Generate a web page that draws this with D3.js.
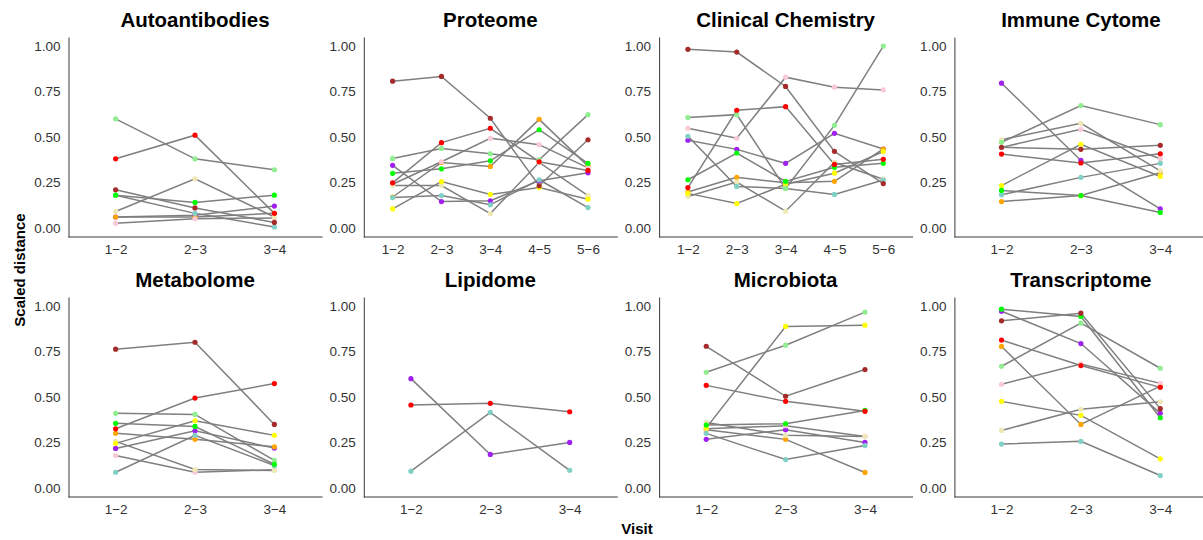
<!DOCTYPE html>
<html>
<head>
<meta charset="utf-8">
<script src="https://cdn.jsdelivr.net/npm/d3@7"></script>
<style>
  body { margin: 0; background: #fff; }
  svg { display: block; font-family: "Liberation Sans", Arial, sans-serif; }
</style>
</head>
<body>
<svg></svg>
<script>
//size of the page and of each facet
let width = 1203
let height = 540
let panelW = 254
let panelH = 200
let colStep = 295.3
let rowStep = 260
let panelLeft = 68
let panelTop = 37

//visit labels (ggplot uses a real minus sign)
const visits3 = ['1\u22122', '2\u22123', '3\u22124']
const visits5 = ['1\u22122', '2\u22123', '3\u22124', '4\u22125', '5\u22126']
const yTicks = [0, 0.25, 0.5, 0.75, 1]

//subjects, drawn in this order
const subjects = ['purple', 'orange', 'pink', 'beige', 'turq', 'yellow', 'lightgreen', 'green', 'brown', 'red']
const subjectColors = ['#a020f0', '#ffa500', '#f9c9d6', '#eee8b4', '#80d0c6', '#ffff00', '#90ee90', '#00ff00', '#a52a2a', '#ff0000']

//scaled distance per subject, one value per visit
const autoantibodies = [
  ['red', 0.38, 0.51, 0.08],
  ['brown', 0.21, 0.11, 0.03],
  ['lightgreen', 0.60, 0.38, 0.32],
  ['green', 0.18, 0.14, 0.18],
  ['turq', 0.18, 0.08, 0.005],
  ['beige', 0.09, 0.27, 0.06],
  ['orange', 0.06, 0.06, 0.08],
  ['pink', 0.025, 0.05, 0.055],
  ['purple', 0.06, 0.07, 0.12]
]
const proteome = [
  ['brown', 0.807, 0.833, 0.603, 0.232, 0.485],
  ['red', 0.248, 0.469, 0.548, 0.364, 0.316],
  ['lightgreen', 0.382, 0.437, 0.408, 0.375, 0.623],
  ['green', 0.30, 0.325, 0.369, 0.540, 0.355],
  ['purple', 0.344, 0.145, 0.149, 0.26, 0.303],
  ['pink', 0.24, 0.364, 0.493, 0.458, 0.33],
  ['beige', 0.233, 0.233, 0.079, 0.36, 0.178],
  ['turq', 0.167, 0.178, 0.127, 0.265, 0.112],
  ['yellow', 0.105, 0.255, 0.184, 0.222, 0.158],
  ['orange', 0.17, 0.36, 0.338, 0.597, 0.34]
]
const clinicalChemistry = [
  ['brown', 0.982, 0.967, 0.778, 0.421, 0.244],
  ['pink', 0.548, 0.493, 0.829, 0.774, 0.759],
  ['lightgreen', 0.607, 0.623, 0.217, 0.564, 1.0],
  ['red', 0.222, 0.647, 0.667, 0.349, 0.377],
  ['purple', 0.482, 0.432, 0.355, 0.52, 0.434],
  ['green', 0.265, 0.412, 0.256, 0.333, 0.355],
  ['turq', 0.504, 0.228, 0.217, 0.184, 0.263],
  ['orange', 0.197, 0.278, 0.248, 0.256, 0.434],
  ['yellow', 0.19, 0.134, 0.24, 0.301, 0.42],
  ['beige', 0.173, 0.252, 0.092, 0.36, 0.268]
]
const immuneCytome = [
  ['purple', 0.796, 0.371, 0.105],
  ['lightgreen', 0.471, 0.673, 0.568],
  ['beige', 0.485, 0.575, 0.314],
  ['brown', 0.443, 0.432, 0.454],
  ['red', 0.406, 0.357, 0.408],
  ['yellow', 0.233, 0.46, 0.283],
  ['green', 0.206, 0.178, 0.085],
  ['turq', 0.182, 0.278, 0.355],
  ['orange', 0.145, 0.178, 0.303],
  ['pink', 0.443, 0.542, 0.38]
]
const metabolome = [
  ['brown', 0.763, 0.801, 0.349],
  ['red', 0.325, 0.494, 0.574],
  ['lightgreen', 0.41, 0.404, 0.151],
  ['green', 0.355, 0.338, 0.13],
  ['orange', 0.30, 0.267, 0.226],
  ['beige', 0.256, 0.101, 0.096],
  ['yellow', 0.245, 0.369, 0.289],
  ['purple', 0.217, 0.314, 0.219],
  ['pink', 0.178, 0.086, 0.10],
  ['turq', 0.086, 0.289, 0.123]
]
const lipidome = [
  ['purple', 0.601, 0.184, 0.25],
  ['red', 0.456, 0.465, 0.419],
  ['turq', 0.092, 0.415, 0.097]
]
const microbiota = [
  ['yellow', 0.33, 0.888, 0.895],
  ['lightgreen', 0.636, 0.785, 0.967],
  ['brown', 0.779, 0.504, 0.651],
  ['red', 0.564, 0.476, 0.421],
  ['green', 0.346, 0.353, 0.426],
  ['beige', 0.36, 0.289, 0.283],
  ['purple', 0.267, 0.32, 0.25],
  ['turq', 0.30, 0.156, 0.233],
  ['orange', 0.32, 0.267, 0.085],
  ['pink', 0.325, 0.342, 0.283]
]
const transcriptome = [
  ['green', 0.983, 0.943, 0.386],
  ['purple', 0.972, 0.794, 0.41],
  ['brown', 0.919, 0.961, 0.436],
  ['red', 0.813, 0.673, 0.553],
  ['orange', 0.778, 0.349, 0.56],
  ['lightgreen', 0.669, 0.906, 0.658],
  ['pink', 0.57, 0.682, 0.575],
  ['yellow', 0.476, 0.399, 0.16],
  ['beige', 0.316, 0.432, 0.474],
  ['turq', 0.241, 0.256, 0.068]
]

const panelNames = ['Autoantibodies', 'Proteome', 'Clinical Chemistry', 'Immune Cytome',
                    'Metabolome', 'Lipidome', 'Microbiota', 'Transcriptome']
const panelData = [autoantibodies, proteome, clinicalChemistry, immuneCytome,
                   metabolome, lipidome, microbiota, transcriptome]
const panelVisits = [visits3, visits5, visits5, visits3, visits3, visits3, visits3, visits3]

let svg = d3.select('svg').attr('width', width).attr('height', height)

let colorScale = d3.scaleOrdinal(subjects, subjectColors)

//one facet
let drawPanel = (i) => {
  let x0 = panelLeft + (i % 4) * colStep
  let y0 = panelTop + Math.floor(i / 4) * rowStep
  let visits = panelVisits[i]

  let xScale = d3.scalePoint()
                 .domain(visits)
                 .range([x0, x0 + panelW])
                 .padding(0.6)
  let yScale = d3.scaleLinear()
                 .domain([-0.05, 1.05])
                 .range([y0 + panelH, y0])

  let g = svg.append('g')

  //rows -> list of points per subject, sorted by draw order
  let rows = panelData[i].slice().sort((a, b) => subjects.indexOf(a[0]) - subjects.indexOf(b[0]))
  let series = rows.map(r => ({
    subject: r[0],
    points: visits.map((v, k) => ({ visit: v, value: r[k + 1] }))
  }))

  let line = d3.line()
               .x(d => xScale(d.visit))
               .y(d => yScale(d.value))

  g.selectAll('path.link')
   .data(series)
   .enter()
   .append('path')
   .attr('class', 'link')
   .attr('d', d => line(d.points))
   .attr('fill', 'none')
   .attr('stroke', '#7f7f7f')
   .attr('stroke-width', 1.5)

  series.forEach(s => {
    g.selectAll(null)
     .data(s.points)
     .enter()
     .append('circle')
     .attr('cx', d => xScale(d.visit))
     .attr('cy', d => yScale(d.value))
     .attr('r', 2.6)
     .attr('fill', colorScale(s.subject))
  })

  //axes
  let yAxis = d3.axisLeft(yScale)
                .tickValues(yTicks)
                .tickFormat(d3.format('.2f'))
                .tickSize(0)
                .tickPadding(8)
  let xAxis = d3.axisBottom(xScale)
                .tickSize(0)
                .tickPadding(8)

  let ya = svg.append('g')
              .attr('transform', 'translate(' + (x0 + 0.5) + ',0)')
              .call(yAxis)
  let xa = svg.append('g')
              .attr('transform', 'translate(0,' + (y0 + panelH - 0.5) + ')')
              .call(xAxis)

  for (let a of [ya, xa]) {
    a.select('.domain').attr('stroke', '#3a3a3a').attr('stroke-width', 1)
    a.selectAll('text')
     .attr('fill', '#333')
     .style('font-size', '13.5px')
     .style('font-family', '"Liberation Sans", Arial, sans-serif')
  }

  //title
  svg.append('text')
     .attr('x', x0 + panelW / 2)
     .attr('y', y0 - 10)
     .attr('text-anchor', 'middle')
     .style('font-size', '20.5px')
     .style('font-weight', 'bold')
     .text(panelNames[i])
}

panelNames.forEach((n, i) => drawPanel(i))

//shared axis titles
svg.append('text')
   .attr('transform', 'translate(25,270) rotate(-90)')
   .attr('text-anchor', 'middle')
   .style('font-size', '15px')
   .style('font-weight', 'bold')
   .text('Scaled distance')

svg.append('text')
   .attr('x', 637)
   .attr('y', 534)
   .attr('text-anchor', 'middle')
   .style('font-size', '15px')
   .style('font-weight', 'bold')
   .text('Visit')
</script>
</body>
</html>
